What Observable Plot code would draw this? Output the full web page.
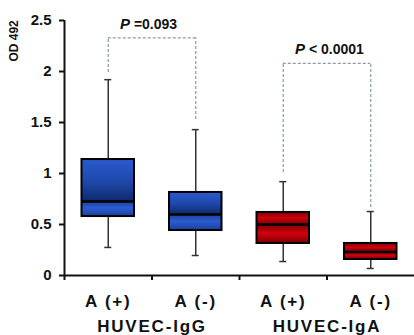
<!DOCTYPE html>
<html><head><meta charset="utf-8">
<script src="https://cdn.jsdelivr.net/npm/d3@7"></script>
<script src="https://cdn.jsdelivr.net/npm/@observablehq/plot@0.6"></script>
<style>
body{margin:0;background:#fff;}
svg{font-family:"Liberation Sans",Arial,sans-serif;}
</style>
</head><body>
<div id="chart"></div>
<script>
const categories = ["A (+)", "A (-)", "A (+)", "A (-)"];
const groups = ["HUVEC-IgG", "HUVEC-IgA"];
const whiskerLow = [0.275, 0.196, 0.137, 0.069];
const q1 = [0.578, 0.441, 0.314, 0.157];
const median = [0.725, 0.598, 0.50, 0.23];
const q3 = [1.137, 0.814, 0.618, 0.314];
const whiskerHigh = [1.92, 1.43, 0.92, 0.627];
const colorKey = ["blue", "blue", "red", "red"];
const yTicks = [0, 0.5, 1, 1.5, 2, 2.5];
// significance brackets
const pFrom = [0, 2];
const pTo = [1, 3];
const pTop = [2.33, 2.08];
const pLegFrom = [1.99, 1.01];
const pLegTo = [1.53, 0.667];
const pText = [" =0.093", " < 0.0001"];

const boxes = categories.map((c, i) => ({
  i, c, lo: whiskerLow[i], q1: q1[i], med: median[i], q3: q3[i], hi: whiskerHigh[i], col: colorKey[i]
}));
const brackets = pFrom.map((a, k) => ({
  a: a + 0.5, b: pTo[k] + 0.5, top: pTop[k], la: pLegFrom[k], lb: pLegTo[k], t: pText[k]
}));
const groupData = groups.map((g, k) => ({g, x: 2 * k + 1}));

const half = 0.3, cap = 0.04;

const plot = Plot.plot({
  width: 414,
  height: 335,
  marginLeft: 64,
  marginRight: 0,
  marginTop: 20,
  marginBottom: 60,
  x: {domain: [0, 4], axis: null},
  y: {domain: [0, 2.5], axis: null},
  style: {fontFamily: '"Liberation Sans", Arial, sans-serif', background: "#fff"},
  marks: [
    // whiskers
    Plot.ruleX(boxes, {x: d => d.i + 0.5, y1: "lo", y2: "hi", stroke: "#333", strokeWidth: 1.5}),
    Plot.ruleY(boxes, {y: "lo", x1: d => d.i + 0.5 - cap, x2: d => d.i + 0.5 + cap, stroke: "#333", strokeWidth: 1.5}),
    Plot.ruleY(boxes, {y: "hi", x1: d => d.i + 0.5 - cap, x2: d => d.i + 0.5 + cap, stroke: "#333", strokeWidth: 1.5}),
    // box upper part
    Plot.rect(boxes, {x1: d => d.i + 0.5 - half, x2: d => d.i + 0.5 + half, y1: "med", y2: "q3",
      fill: d => d.col === "blue" ? "url(#blueTop)" : "url(#redSec)"}),
    // box lower part
    Plot.rect(boxes, {x1: d => d.i + 0.5 - half, x2: d => d.i + 0.5 + half, y1: "q1", y2: "med",
      fill: d => d.col === "blue" ? "url(#blueLow)" : "url(#redSec)"}),
    // box outline
    Plot.rect(boxes, {x1: d => d.i + 0.5 - half, x2: d => d.i + 0.5 + half, y1: "q1", y2: "q3",
      fill: "none", stroke: "#000", strokeWidth: 2}),
    // median
    Plot.ruleY(boxes, {y: "med", x1: d => d.i + 0.5 - half, x2: d => d.i + 0.5 + half, stroke: "#000", strokeWidth: 2.5}),
    // brackets
    Plot.ruleY(brackets, {y: "top", x1: "a", x2: "b", stroke: "#8c9aaa", strokeWidth: 1.2, strokeDasharray: "3,2"}),
    Plot.ruleX(brackets, {x: "a", y1: "la", y2: "top", stroke: "#8c9aaa", strokeWidth: 1.2, strokeDasharray: "3,2"}),
    Plot.ruleX(brackets, {x: "b", y1: "lb", y2: "top", stroke: "#8c9aaa", strokeWidth: 1.2, strokeDasharray: "3,2"}),
    Plot.text(brackets, {x: d => (d.a + d.b) / 2, y: "top", text: d => "P", textAnchor: "end", dx: -22, dy: -9,
      lineAnchor: "bottom", fontSize: 15, fontWeight: "bold", fontStyle: "italic", fill: "#111"}),
    Plot.text(brackets, {x: d => (d.a + d.b) / 2, y: "top", text: "t", textAnchor: "start", dx: -22, dy: -9,
      lineAnchor: "bottom", fontSize: 14, fontWeight: "bold", fill: "#111"}),
    // axes
    Plot.axisY({ticks: yTicks, tickSize: 5, tickPadding: 8, fontSize: 15, fontWeight: "bold",
      tickFormat: d => String(d), strokeWidth: 2, color: "#111"}),
    Plot.axisX({ticks: [0, 1, 2, 3], tickSize: 5, tickFormat: () => "", strokeWidth: 2, color: "#111"}),
    Plot.ruleX([0], {y1: 0, y2: 2.5, stroke: "#111", strokeWidth: 2}),
    Plot.ruleY([0], {x1: 0, x2: 4, stroke: "#111", strokeWidth: 2}),
    // category labels
    Plot.text(boxes, {x: d => d.i + 0.5, y: 0, text: "c", dy: 31, lineAnchor: "bottom",
      fontSize: 17, fontWeight: "bold", fill: "#111"}),
    Plot.text(groupData, {x: "x", y: 0, text: "g", dy: 56, lineAnchor: "bottom",
      fontSize: 17, fontWeight: "bold", fill: "#111"}),
    // y label
    Plot.text(["OD 492"], {frameAnchor: "left", y: 2.3, text: d => d, rotate: -90, dx: -50,
      textAnchor: "middle", fontSize: 12, fontWeight: "bold", fill: "#111"})
  ]
});

const svg = d3.select(plot);
const defs = svg.insert("defs", ":first-child");
function grad(id, stops) {
  const g = defs.append("linearGradient").attr("id", id).attr("x1", 0).attr("y1", 0).attr("x2", 0).attr("y2", 1);
  stops.forEach(([o, c]) => g.append("stop").attr("offset", o).attr("stop-color", c));
}
grad("blueTop", [[0, "#2a5bd0"], [0.55, "#1d47a8"], [1, "#0f2a6c"]]);
grad("blueLow", [[0, "#1a3f9c"], [0.45, "#2c5cd0"], [1, "#1a3f9c"]]);
grad("redSec", [[0, "#7a0000"], [0.5, "#d2000f"], [1, "#7a0000"]]);

// widen the x category / group labels as in the reference
const wide = new Set([...categories, ...groups]);
svg.selectAll("text").filter(function() { return wide.has(this.textContent); })
  .style("letter-spacing", "1.8px");

document.getElementById("chart").appendChild(plot);
</script>
</body></html>
